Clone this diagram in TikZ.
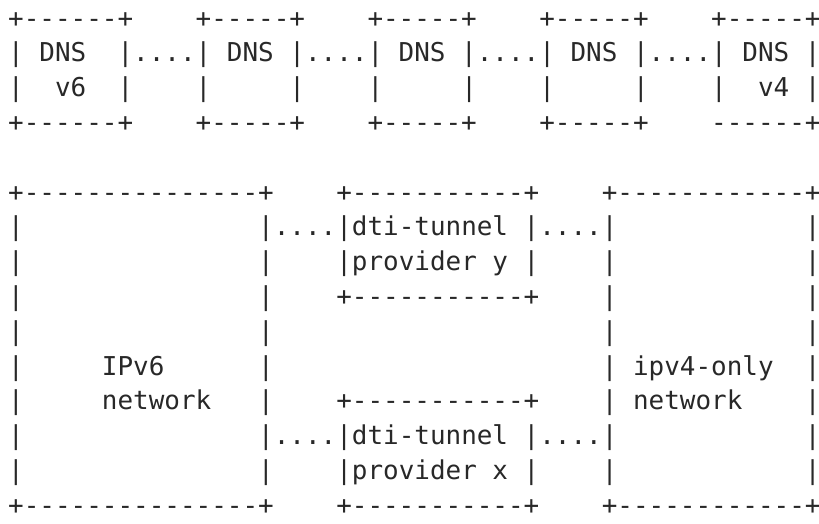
\documentclass[tikz,border=0pt]{standalone}
\usepackage{fontspec}
\setmonofont{DejaVu Sans Mono}
\definecolor{ink}{RGB}{40,40,40}
\begin{document}
\begin{tikzpicture}[x=1pt,y=1pt,
  ascii/.style={anchor=base west, inner sep=0pt, outer sep=0pt,
    font=\ttfamily\fontsize{25.95}{30}\selectfont, text=ink}]
\path[use as bounding box] (0,0) rectangle (819,523);
% DNS chain
\node[ascii] (r1)  at (8.2,495.9) {+------+~~~~+-----+~~~~+-----+~~~~+-----+~~~~+-----+};
\node[ascii] (r2)  at (8.2,461.1) {|~DNS~~|....|~DNS~|....|~DNS~|....|~DNS~|....|~DNS~|};
\node[ascii] (r3)  at (8.2,426.3) {|~~v6~~|~~~~|~~~~~|~~~~|~~~~~|~~~~|~~~~~|~~~~|~~v4~|};
\node[ascii] (r4)  at (8.2,391.5) {+------+~~~~+-----+~~~~+-----+~~~~+-----+~~~~------+};
% networks and tunnel providers
\node[ascii] (r6)  at (8.2,321.9) {+---------------+~~~~+-----------+~~~~+------------+};
\node[ascii] (r7)  at (8.2,287.1) {|~~~~~~~~~~~~~~~|....|dti-tunnel~|....|~~~~~~~~~~~~|};
\node[ascii] (r8)  at (8.2,252.3) {|~~~~~~~~~~~~~~~|~~~~|provider~y~|~~~~|~~~~~~~~~~~~|};
\node[ascii] (r9)  at (8.2,217.5) {|~~~~~~~~~~~~~~~|~~~~+-----------+~~~~|~~~~~~~~~~~~|};
\node[ascii] (r10) at (8.2,182.7) {|~~~~~~~~~~~~~~~|~~~~~~~~~~~~~~~~~~~~~|~~~~~~~~~~~~|};
\node[ascii] (r11) at (8.2,147.9) {|~~~~~IPv6~~~~~~|~~~~~~~~~~~~~~~~~~~~~|~ipv4-only~~|};
\node[ascii] (r12) at (8.2,113.1) {|~~~~~network~~~|~~~~+-----------+~~~~|~network~~~~|};
\node[ascii] (r13) at (8.2,78.3)  {|~~~~~~~~~~~~~~~|....|dti-tunnel~|....|~~~~~~~~~~~~|};
\node[ascii] (r14) at (8.2,43.5)  {|~~~~~~~~~~~~~~~|~~~~|provider~x~|~~~~|~~~~~~~~~~~~|};
\node[ascii] (r15) at (8.2,8.7)   {+---------------+~~~~+-----------+~~~~+------------+};
\end{tikzpicture}
\end{document}
